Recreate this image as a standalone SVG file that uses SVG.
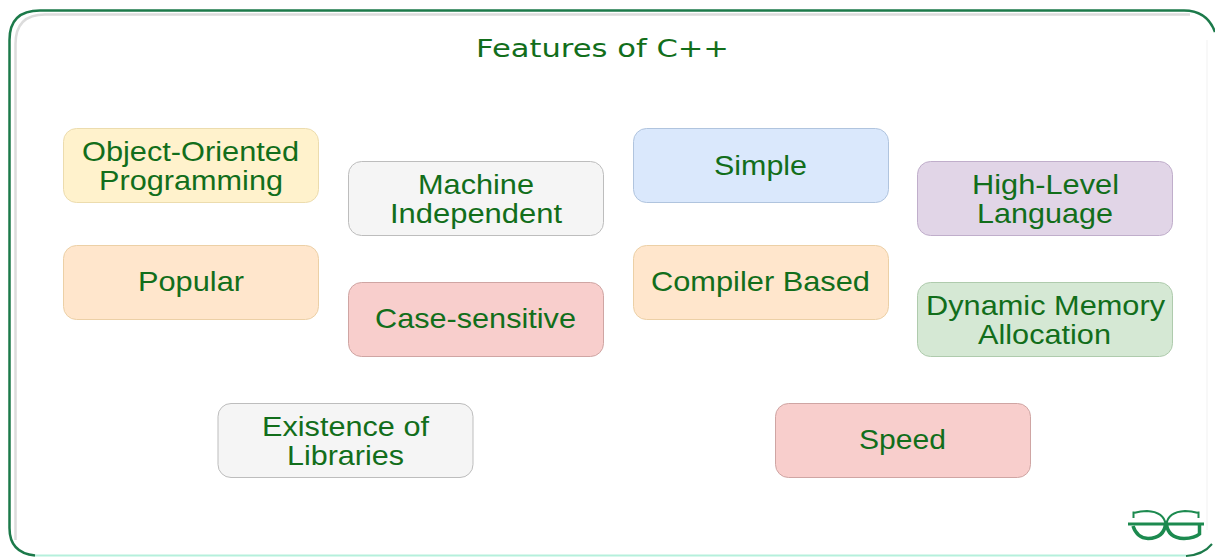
<svg xmlns="http://www.w3.org/2000/svg" width="1215" height="557" viewBox="0 0 1215 557">
<style>
.n{stroke-width:1}
text{font-family:"Liberation Sans",Arial,sans-serif;font-size:27.500px;fill:#126e1b;text-anchor:middle}
text.t{font-family:"DejaVu Sans",sans-serif;font-size:25px}
.y{fill:#fff2cc;stroke:#ecdcae}.g{fill:#f5f5f5;stroke:#bdbdbd}.b{fill:#dae8fc;stroke:#b0c4de}.p{fill:#e1d5e7;stroke:#c0aecb}
.o{fill:#ffe6cc;stroke:#ecd0a6}.r{fill:#f8cecc;stroke:#cfa5a3}.e{fill:#d5e8d4;stroke:#afcbad}
</style>
<rect width="1215" height="557" fill="#fff"/>
<g id="frame" fill="none">
<path d="M1207 40V530" stroke="#f6f6f6" stroke-width="1.500"/>
<path d="M35 555.500H1186" stroke="#b5f0dc" stroke-width="2"/>
<path d="M15.500 540V44Q15.500 14.500 45 14.500H1190" stroke="#dcdcdc" stroke-width="2.500"/>
<path d="M1215 32Q1207 10.500 1184 10.500H40Q9.500 10.500 9.500 40V528Q9.500 553 35 555.500" stroke="#1c7a4a" stroke-width="2.500"/>
<path d="M1186 556Q1203 555 1212 544" stroke="#1c7a4a" stroke-width="2"/>
</g>
<g id="title"><text class="t" x="602.500" y="57" textLength="253" lengthAdjust="spacingAndGlyphs">Features of C++</text></g>
<g id="connectors"></g>
<g id="oop"><rect class="n y" x="63.500" y="128.500" width="255" height="74" rx="13"/><text x="190.500" y="161" textLength="217" lengthAdjust="spacingAndGlyphs">Object-Oriented</text><text x="191" y="190" textLength="184" lengthAdjust="spacingAndGlyphs">Programming</text></g>
<g id="machine"><rect class="n g" x="348.500" y="161.500" width="255" height="74" rx="13"/><text x="476" y="194" textLength="116" lengthAdjust="spacingAndGlyphs">Machine</text><text x="476" y="223" textLength="172" lengthAdjust="spacingAndGlyphs">Independent</text></g>
<g id="simple"><rect class="n b" x="633.500" y="128.500" width="255" height="74" rx="13"/><text x="760.500" y="175" textLength="93" lengthAdjust="spacingAndGlyphs">Simple</text></g>
<g id="highlevel"><rect class="n p" x="917.500" y="161.500" width="255" height="74" rx="13"/><text x="1045.500" y="194" textLength="147" lengthAdjust="spacingAndGlyphs">High-Level</text><text x="1045" y="223" textLength="136" lengthAdjust="spacingAndGlyphs">Language</text></g>
<g id="popular"><rect class="n o" x="63.500" y="245.500" width="255" height="74" rx="13"/><text x="191" y="291" textLength="106" lengthAdjust="spacingAndGlyphs">Popular</text></g>
<g id="case"><rect class="n r" x="348.500" y="282.500" width="255" height="74" rx="13"/><text x="475.500" y="328" textLength="201" lengthAdjust="spacingAndGlyphs">Case-sensitive</text></g>
<g id="compiler"><rect class="n o" x="633.500" y="245.500" width="255" height="74" rx="13"/><text x="760.500" y="291" textLength="219" lengthAdjust="spacingAndGlyphs">Compiler Based</text></g>
<g id="dynamic"><rect class="n e" x="917.500" y="282.500" width="255" height="74" rx="13"/><text x="1045.500" y="315" textLength="239" lengthAdjust="spacingAndGlyphs">Dynamic Memory</text><text x="1044.500" y="344" textLength="133" lengthAdjust="spacingAndGlyphs">Allocation</text></g>
<g id="libraries"><rect class="n g" x="218" y="403.500" width="255" height="74" rx="13"/><text x="345.500" y="436" textLength="167" lengthAdjust="spacingAndGlyphs">Existence of</text><text x="345.500" y="465" textLength="117" lengthAdjust="spacingAndGlyphs">Libraries</text></g>
<g id="speed"><rect class="n r" x="775.500" y="403.500" width="255" height="74" rx="13"/><text x="902.500" y="449" textLength="87" lengthAdjust="spacingAndGlyphs">Speed</text></g>
<g id="logo" fill="none" stroke="#1c8a4f">
<path d="M1128 524H1204" stroke-width="3"/>
<path d="M1133.500 518V511.500M1133.500 513Q1141 511 1147 511Q1164 512 1165.500 524" stroke-width="2"/>
<path d="M1198.500 518V511.500M1198.500 513Q1191 511 1185 511Q1168 512 1166.500 524" stroke-width="2"/>
<path d="M1165.500 524Q1164 538 1148 538.500Q1137 538 1133 526" stroke-width="3.500"/>
<path d="M1166.500 524Q1168 538 1184 538.500Q1195 538 1199.500 534V524" stroke-width="3.500"/>
</g>
</svg>
